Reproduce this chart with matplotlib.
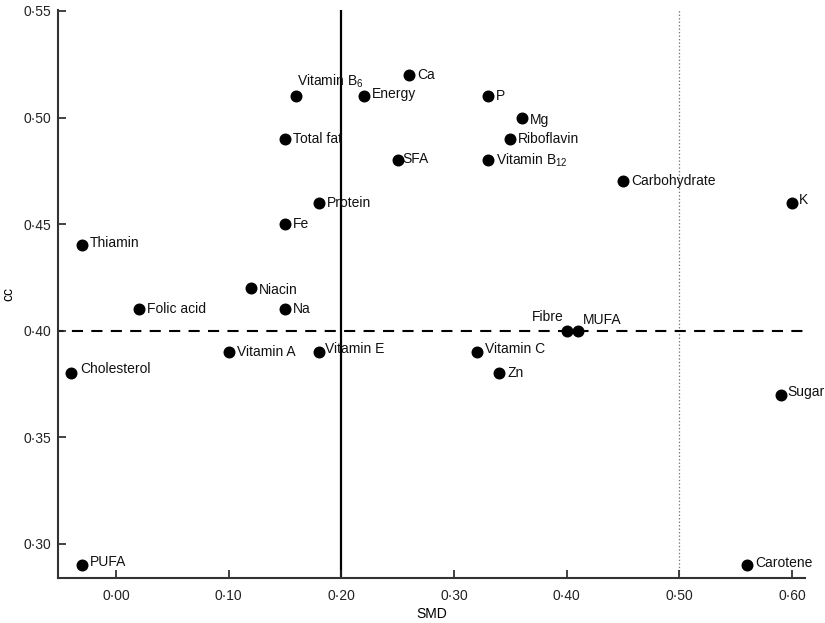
import matplotlib
matplotlib.use("Agg")
import matplotlib.pyplot as plt
from matplotlib.ticker import FuncFormatter

plt.rcParams["font.family"] = ["Liberation Sans", "DejaVu Sans"]
plt.rcParams["mathtext.default"] = "regular"
plt.rcParams["lines.scale_dashes"] = False

nutrients = ["Vitamin B$_{6}$", "Energy", "Ca", "P", "Mg", "Riboflavin", "Total fat",
             "SFA", "Vitamin B$_{12}$", "Carbohydrate", "K", "Protein", "Fe", "Thiamin",
             "Niacin", "Folic acid", "Na", "Fibre", "MUFA", "Vitamin A", "Vitamin E",
             "Vitamin C", "Cholesterol", "Zn", "Sugar", "PUFA", "Carotene"]
smd = [0.16, 0.22, 0.26, 0.33, 0.36, 0.35, 0.15,
       0.25, 0.33, 0.45, 0.60, 0.18, 0.15, -0.03,
       0.12, 0.02, 0.15, 0.40, 0.41, 0.10, 0.18,
       0.32, -0.04, 0.34, 0.59, -0.03, 0.56]
cc = [0.51, 0.51, 0.52, 0.51, 0.50, 0.49, 0.49,
      0.48, 0.48, 0.47, 0.46, 0.46, 0.45, 0.44,
      0.42, 0.41, 0.41, 0.40, 0.40, 0.39, 0.39,
      0.39, 0.38, 0.38, 0.37, 0.29, 0.29]
x_ticks = [0.0, 0.1, 0.2, 0.3, 0.4, 0.5, 0.6]
y_ticks = [0.30, 0.35, 0.40, 0.45, 0.50, 0.55]

# label offsets in pixels (dx, dy) and alignment; default is right of point
label_pos = {
    "Vitamin B$_{6}$": (1, 15, "left"),
    "Energy": (8, 2, "left"),
    "SFA": (5, 1, "left"),
    "Mg": (8, -2, "left"),
    "Niacin": (8, -2, "left"),
    "K": (7, 3, "left"),
    "Fibre": (-3, 14, "right"),
    "MUFA": (5, 11, "left"),
    "Vitamin E": (6, 3, "left"),
    "Vitamin C": (8, 3, "left"),
    "Cholesterol": (9, 4, "left"),
    "Thiamin": (8, 2, "left"),
    "Sugar": (7, 3, "left"),
    "PUFA": (8, 3, "left"),
    "Carotene": (8, 2, "left"),
}

fig = plt.figure(figsize=(8.25, 6.23), dpi=100)
ax = fig.add_axes([0.0703, 0.0722, 0.906, 0.912])

ax.axvline(0.20, color="black", lw=1.6, zorder=1)
ax.axvline(0.50, color="#777777", lw=0.9, ls=(0, (1, 1.5)), zorder=1)
ax.axhline(0.40, color="black", lw=1.5, ls=(4, (8, 6)), zorder=1)

ax.scatter(smd, cc, s=58, color="black", zorder=3)
px = 72 / 100
for name, x, y in zip(nutrients, smd, cc):
    dx, dy, ha = label_pos.get(name, (8, 0, "left"))
    ax.annotate(name, (x, y), xytext=(dx * px, dy * px), textcoords="offset points",
                ha=ha, va="center", fontsize=10, color="#111111")

ax.set_xlim(-0.0515, 0.612)
ax.set_ylim(0.284, 0.5505)
ax.set_xticks(x_ticks)
ax.set_yticks(y_ticks)
fmt = FuncFormatter(lambda v, p: f"{v:.2f}".replace(".", "\u00b7"))
ax.xaxis.set_major_formatter(fmt)
ax.yaxis.set_major_formatter(fmt)
ax.tick_params(direction="in", length=6, width=1.2, labelsize=10, colors="#222222")
ax.tick_params(axis="y", pad=5)
ax.tick_params(axis="x", pad=8)
for s in ["top", "right"]:
    ax.spines[s].set_visible(False)
for s in ["left", "bottom"]:
    ax.spines[s].set_linewidth(1.5)
    ax.spines[s].set_color("#333333")
ax.set_xlabel("SMD", fontsize=10, labelpad=3)
ax.set_ylabel("cc", fontsize=10, labelpad=6)

fig.savefig("out.png", dpi=100)
